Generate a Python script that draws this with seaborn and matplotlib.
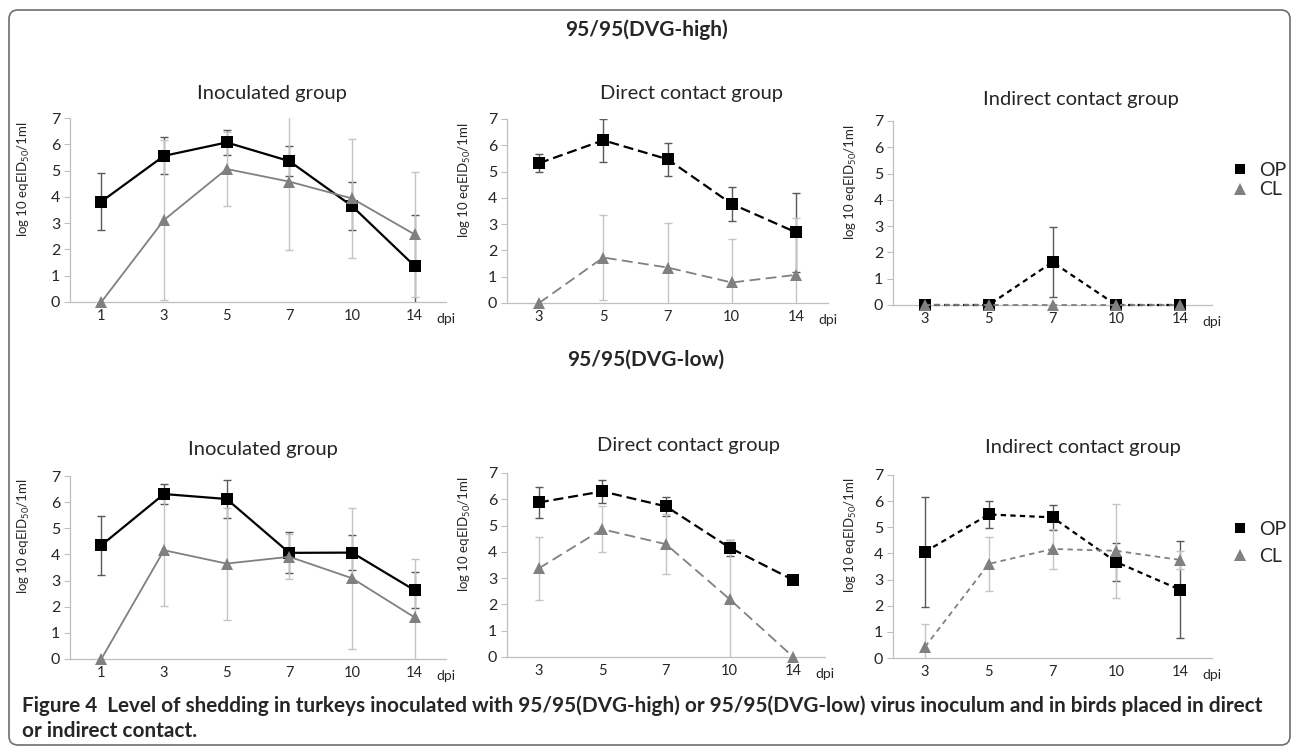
import numpy as np
import pandas as pd
import seaborn as sns
import matplotlib.pyplot as plt
from matplotlib.lines import Line2D
from matplotlib.patches import FancyBboxPatch

# x categories (days post inoculation)
days_inoc = ["1", "3", "5", "7", "10", "14"]
days_contact = ["3", "5", "7", "10", "14"]

# 95/95(DVG-high)
high_inoc_op = [3.82, 5.56, 6.07, 5.36, 3.65, 1.37]
high_inoc_op_err = [1.07, 0.70, 0.46, 0.56, 0.90, 1.94]
high_inoc_cl = [0.0, 3.12, 5.06, 4.58, 3.94, 2.57]
high_inoc_cl_err = [0.0, 3.05, 1.40, 2.60, 2.27, 2.37]

high_direct_op = [5.32, 6.19, 5.47, 3.77, 2.69]
high_direct_op_err = [0.33, 0.81, 0.62, 0.66, 1.51]
high_direct_cl = [0.0, 1.73, 1.35, 0.78, 1.07]
high_direct_cl_err = [0.0, 1.62, 1.68, 1.64, 2.15]

high_indirect_op = [0.0, 0.0, 1.63, 0.0, 0.0]
high_indirect_op_err = [0.0, 0.0, 1.33, 0.0, 0.0]
high_indirect_cl = [0.0, 0.0, 0.0, 0.0, 0.0]
high_indirect_cl_err = [0.0, 0.0, 0.0, 0.0, 0.0]

# 95/95(DVG-low)
low_inoc_op = [4.35, 6.31, 6.12, 4.06, 4.07, 2.63]
low_inoc_op_err = [1.13, 0.38, 0.74, 0.78, 0.67, 0.69]
low_inoc_cl = [0.0, 4.16, 3.65, 3.91, 3.09, 1.59]
low_inoc_cl_err = [0.0, 2.12, 2.14, 0.86, 2.70, 2.23]

low_direct_op = [5.88, 6.30, 5.73, 4.16, 2.93]
low_direct_op_err = [0.58, 0.44, 0.37, 0.31, 0.0]
low_direct_cl = [3.37, 4.86, 4.29, 2.20, 0.0]
low_direct_cl_err = [1.21, 0.88, 1.15, 2.25, 0.0]

low_indirect_op = [4.06, 5.49, 5.38, 3.67, 2.61]
low_indirect_op_err = [2.10, 0.50, 0.48, 0.73, 1.86]
low_indirect_cl = [0.42, 3.60, 4.17, 4.10, 3.75]
low_indirect_cl_err = [0.89, 1.03, 0.76, 1.80, 0.35]

sns.set_theme(style="white")
plt.rcParams["font.family"] = ["Lato", "DejaVu Sans"]
plt.rcParams["mathtext.default"] = "regular"

W, H = 1293, 747
fig = plt.figure(figsize=(W / 100, H / 100), dpi=100)

AXIS_GREY = "#bfbfbf"
solid = {"OP": "", "CL": ""}
long_dash = {"OP": (4.5, 2.2), "CL": (6, 3)}
short_dash = {"OP": (2.4, 1.9), "CL": (3, 2.4)}


def add_axes_px(left, right, y0, y7):
    return fig.add_axes([left / W, 1 - y0 / H, (right - left) / W, (y0 - y7) / H])


def draw_panel(ax, days, op, op_err, cl, cl_err, dashes, label_x):
    pos = np.arange(len(days))
    df = pd.DataFrame({
        "pos": np.concatenate([pos, pos]),
        "value": op + cl,
        "sample": ["OP"] * len(days) + ["CL"] * len(days),
    })
    for vals, errs, col in [(op, op_err, "#595959"), (cl, cl_err, "#c4c4c4")]:
        keep = [i for i, e in enumerate(errs) if e > 0]
        ax.errorbar(pos[keep], np.array(vals)[keep], yerr=np.array(errs)[keep],
                    fmt="none", ecolor=col, elinewidth=1, capsize=3, capthick=1,
                    zorder=1.5)
    sns.lineplot(data=df, x="pos", y="value", hue="sample", style="sample",
                 size="sample", palette={"OP": "black", "CL": "#808080"},
                 markers={"OP": "s", "CL": "^"}, dashes=dashes,
                 sizes={"OP": 1.6, "CL": 1.3}, markersize=9,
                 markeredgewidth=0, errorbar=None, legend=False, ax=ax,
                 clip_on=False, zorder=3)

    ax.set_xlim(-0.5, len(days) - 0.5)
    ax.set_ylim(0, 7)
    ax.set_yticks(range(8))
    ax.set_xticks(pos)
    ax.set_xticklabels(days)
    ax.set_xticks(np.arange(len(days) + 1) - 0.5, minor=True)
    ax.tick_params(axis="x", which="major", length=0, pad=5, labelsize=10.5)
    ax.tick_params(axis="x", which="minor", length=5, width=0.8,
                   color=AXIS_GREY, direction="out")
    ax.tick_params(axis="y", length=4, width=0.8, color=AXIS_GREY, pad=3,
                   labelsize=11.5, left=True)
    for side in ["top", "right"]:
        ax.spines[side].set_visible(False)
    for side in ["left", "bottom"]:
        ax.spines[side].set_color(AXIS_GREY)
        ax.spines[side].set_linewidth(0.9)
    ax.set_xlabel("")
    ax.set_ylabel("log 10 eqEID$_{50}$/1ml", fontsize=9.5)
    ax.yaxis.set_label_coords(label_x, 0.67)
    ax.annotate("dpi", xy=(len(days) - 0.5, 0), xycoords=("data", "axes fraction"),
                xytext=(0, -12), textcoords="offset points",
                ha="center", va="center", fontsize=10)


# top row: DVG-high
ax = add_axes_px(70, 446, 302, 118)
draw_panel(ax, days_inoc, high_inoc_op, high_inoc_op_err,
           high_inoc_cl, high_inoc_cl_err, solid, -38 / 376)
ax = add_axes_px(507, 828, 303, 119)
draw_panel(ax, days_contact, high_direct_op, high_direct_op_err,
           high_direct_cl, high_direct_cl_err, long_dash, -34 / 321)
ax = add_axes_px(893, 1212, 305, 121)
draw_panel(ax, days_contact, high_indirect_op, high_indirect_op_err,
           high_indirect_cl, high_indirect_cl_err, short_dash, -34 / 319)

# bottom row: DVG-low
ax = add_axes_px(70, 446, 659, 476)
draw_panel(ax, days_inoc, low_inoc_op, low_inoc_op_err,
           low_inoc_cl, low_inoc_cl_err, solid, -38 / 376)
ax = add_axes_px(507, 825, 657, 473)
draw_panel(ax, days_contact, low_direct_op, low_direct_op_err,
           low_direct_cl, low_direct_cl_err, long_dash, -34 / 318)
ax = add_axes_px(893, 1212, 658, 475)
draw_panel(ax, days_contact, low_indirect_op, low_indirect_op_err,
           low_indirect_cl, low_indirect_cl_err, short_dash, -34 / 319)

# titles
fig.text(646 / W, 1 - 30 / H, "95/95(DVG-high)", ha="center", va="center",
         fontsize=15, fontweight="bold")
fig.text(646 / W, 1 - 360 / H, "95/95(DVG-low)", ha="center", va="center",
         fontsize=15, fontweight="bold")
for x, y, t in [(272, 93, "Inoculated group"), (692, 93, "Direct contact group"),
                (1081, 100, "Indirect contact group"),
                (263, 449, "Inoculated group"), (688, 446, "Direct contact group"),
                (1083, 448, "Indirect contact group")]:
    fig.text(x / W, 1 - y / H, t, ha="center", va="center", fontsize=14.5)

# legends
handles = [Line2D([], [], ls="none", marker="s", color="black", markersize=7.5,
                  markeredgewidth=0),
           Line2D([], [], ls="none", marker="^", color="#808080", markersize=8.5,
                  markeredgewidth=0)]
for y_mid, spacing in [(180, 0.15), (543, 0.5)]:
    fig.legend(handles, ["OP", "CL"], loc="center left",
               bbox_to_anchor=(1232 / W, 1 - y_mid / H), frameon=False,
               fontsize=14, handlelength=0.8, handletextpad=0.6,
               labelspacing=spacing, borderpad=0, borderaxespad=0)

# caption, sized so the first line spans the same width as the original
cap_lines = [
    "Figure 4  Level of shedding in turkeys inoculated with 95/95(DVG-high) or "
    "95/95(DVG-low) virus inoculum and in birds placed in direct",
    "or indirect contact.",
]
cap1 = fig.text(22 / W, 1 - 706 / H, cap_lines[0], ha="left", va="center",
                fontsize=14, fontweight="bold")
fig.canvas.draw()
width_px = cap1.get_window_extent().width
cap_size = 14 * 1250 / width_px
cap1.set_fontsize(cap_size)
fig.text(22 / W, 1 - 731 / H, cap_lines[1], ha="left", va="center",
         fontsize=cap_size, fontweight="bold")

# rounded frame
fig.patches.append(FancyBboxPatch((9, 2), 1281, 735,
                                  boxstyle="round,pad=0,rounding_size=9",
                                  transform=None, facecolor="none",
                                  edgecolor="#6e6e6e", linewidth=1.2))

fig.savefig("out.png", dpi=100)
